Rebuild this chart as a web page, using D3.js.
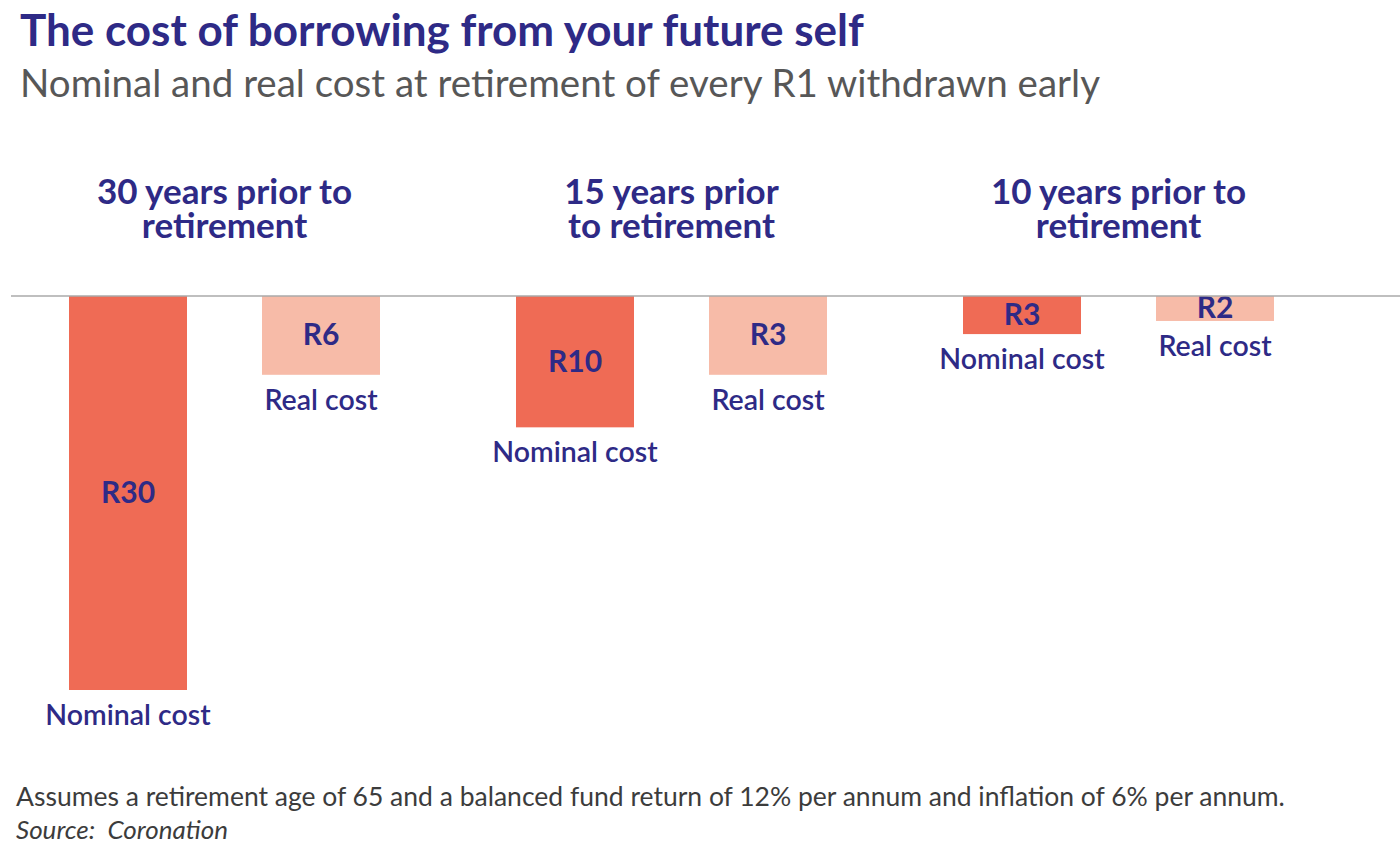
<!DOCTYPE html>
<html><head><meta charset="utf-8">
<script src="https://cdn.jsdelivr.net/npm/d3@7"></script>
<style>body{margin:0;background:#fff}svg{display:block}</style>
</head><body>
<svg id="c" width="1400" height="848"></svg>
<script>
const groups = ["30 years prior to|retirement", "15 years prior|to retirement", "10 years prior to|retirement"];
const series = ["Nominal cost", "Real cost"];
const nominalValues = [30, 10, 2.9];
const realValues = [6, 6, 1.9];
const nominalLabels = ["R30", "R10", "R3"];
const realLabels = ["R6", "R3", "R2"];

const title = "The cost of borrowing from your future self";
const subtitle = "Nominal and real cost at retirement of every R1 withdrawn early";
const note = "Assumes a retirement age of 65 and a balanced fund return of 12% per annum and inflation of 6% per annum.";
const source = "Source:  Coronation";

const navy = "#2e2a86", cNom = "#ef6b55", cReal = "#f7bba8";
const font = "Lato, 'Open Sans', sans-serif";
const svg = d3.select("#c");

svg.append("text").attr("x", 20).attr("y", 46).attr("fill", navy)
  .attr("font-family", font).attr("font-weight", 700).attr("font-size", 44).text(title);
svg.append("text").attr("x", 20).attr("y", 97).attr("fill", "#575757")
  .attr("font-family", font).attr("font-size", 38.5).text(subtitle);

const baseY = 296;
const x0 = d3.scaleBand().domain(groups).range([69, 69 + 3 * 447]).paddingInner(0).paddingOuter(0);
const x1 = d3.scaleBand().domain(series).range([0, 311]).paddingInner(0.3886).paddingOuter(0);
const y = d3.scaleLinear().domain([0, 30]).range([baseY, 690]);

const data = [];
groups.forEach((g, i) => {
  data.push({g, s: series[0], v: nominalValues[i], lab: nominalLabels[i], col: cNom});
  data.push({g, s: series[1], v: realValues[i], lab: realLabels[i], col: cReal});
});

// group titles
groups.forEach(g => {
  const cx = x0(g) + 155.5;
  const t = svg.append("text").attr("x", cx).attr("y", 204).attr("text-anchor", "middle")
    .attr("fill", navy).attr("font-family", font).attr("font-weight", 700).attr("font-size", 35);
  g.split("|").forEach((line, k) => t.append("tspan").attr("x", cx).attr("dy", k ? 34 : 0).text(line));
});

const bars = svg.append("g").selectAll("g").data(data).join("g");
bars.append("rect")
  .attr("x", d => x0(d.g) + x1(d.s)).attr("y", baseY)
  .attr("width", x1.bandwidth()).attr("height", d => y(d.v) - baseY)
  .attr("fill", d => d.col);
bars.append("text")
  .attr("x", d => x0(d.g) + x1(d.s) + x1.bandwidth() / 2)
  .attr("y", d => (baseY + y(d.v)) / 2 + 10)
  .attr("text-anchor", "middle").attr("fill", navy).attr("font-family", font)
  .attr("font-weight", 700).attr("font-size", 30).text(d => d.lab);
bars.append("text")
  .attr("x", d => x0(d.g) + x1(d.s) + x1.bandwidth() / 2)
  .attr("y", d => y(d.v) + 35)
  .attr("text-anchor", "middle").attr("fill", navy).attr("font-family", font)
  .attr("font-weight", 600).attr("font-size", 28.5).text(d => d.s);

svg.append("line").attr("x1", 11).attr("x2", 1400).attr("y1", baseY).attr("y2", baseY)
  .attr("stroke", "#aaaaaa").attr("stroke-width", 1.5);

svg.append("text").attr("x", 16).attr("y", 806).attr("fill", "#3c3c3c")
  .attr("font-family", font).attr("font-size", 26.5).text(note);
svg.append("text").attr("x", 16).attr("y", 839).attr("fill", "#3c3c3c")
  .attr("font-family", font).attr("font-style", "italic").attr("font-size", 26)
  .attr("xml:space", "preserve").style("white-space", "pre").text(source);
</script>
</body></html>
